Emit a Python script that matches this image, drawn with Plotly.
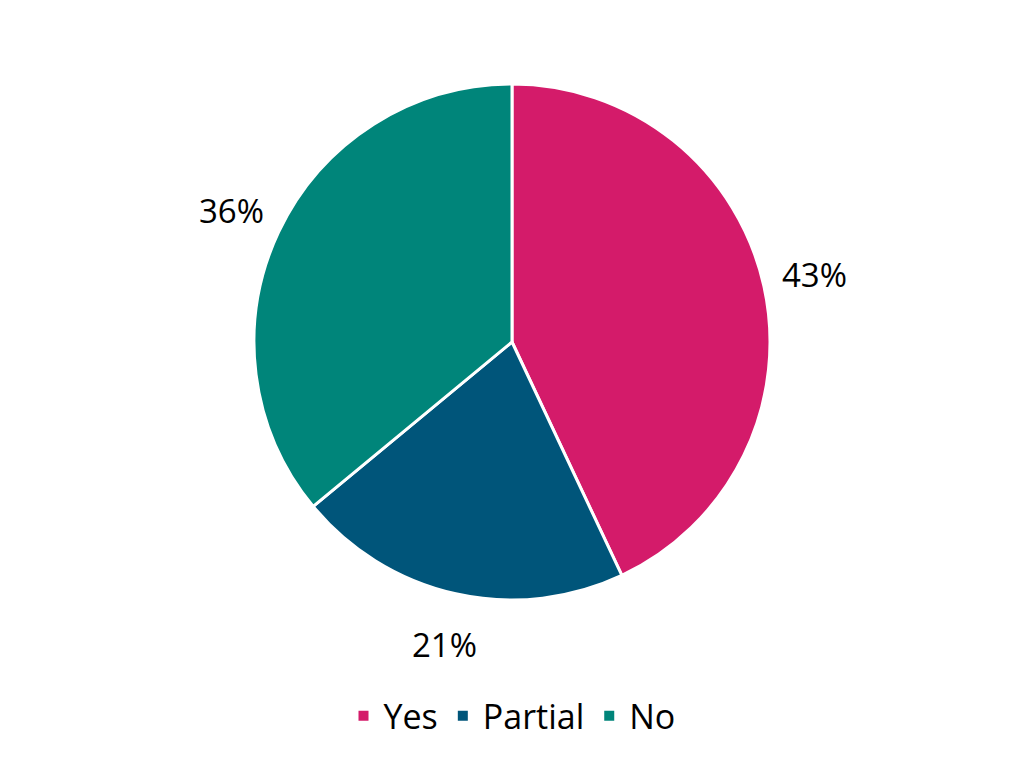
import math
import plotly.graph_objects as go

categories = ["Yes", "Partial", "No"]
values = [43, 21, 36]
colors = ["#D41B6A", "#00557A", "#00857A"]

W, H = 1024, 768
# the page body adds an 8px offset, compensated in the margins
M_T, M_B, M_L, M_R = 76, 176, 0, 16
plot_w = W - M_L - M_R
plot_h = H - M_T - M_B
R = min(plot_w, plot_h) / 2.0
label_r = 1.2 * R

fig = go.Figure(go.Pie(
    labels=categories,
    values=values,
    sort=False,
    direction="clockwise",
    rotation=0,
    marker=dict(colors=colors, line=dict(color="white", width=3)),
    textinfo="none",
    hoverinfo="label+percent",
))

# percentage labels placed outside each slice at its mid-angle
total = sum(values)
cum = 0.0
annotations = []
for cat, v in zip(categories, values):
    mid = (cum + v / 2.0) / total * 2 * math.pi
    cum += v
    x = 0.5 + label_r * math.sin(mid) / plot_w
    y = 0.5 + label_r * math.cos(mid) / plot_h
    annotations.append(dict(
        x=x, y=y, xref="paper", yref="paper",
        text=f"{round(v / total * 100)}%",
        showarrow=False, xanchor="center", yanchor="middle",
        font=dict(size=33, color="#000000"),
    ))

fig.update_layout(
    width=W, height=H,
    margin=dict(l=M_L, r=M_R, t=M_T, b=M_B, autoexpand=False),
    paper_bgcolor="white",
    plot_bgcolor="white",
    font=dict(family="Open Sans", size=33, color="#000000"),
    annotations=annotations,
    showlegend=True,
    legend=dict(
        orientation="h",
        x=0.5, xanchor="center",
        y=-0.225, yanchor="middle",
        font=dict(size=34),
        itemsizing="constant",
        traceorder="normal",
    ),
)

fig.write_html("out.html")
